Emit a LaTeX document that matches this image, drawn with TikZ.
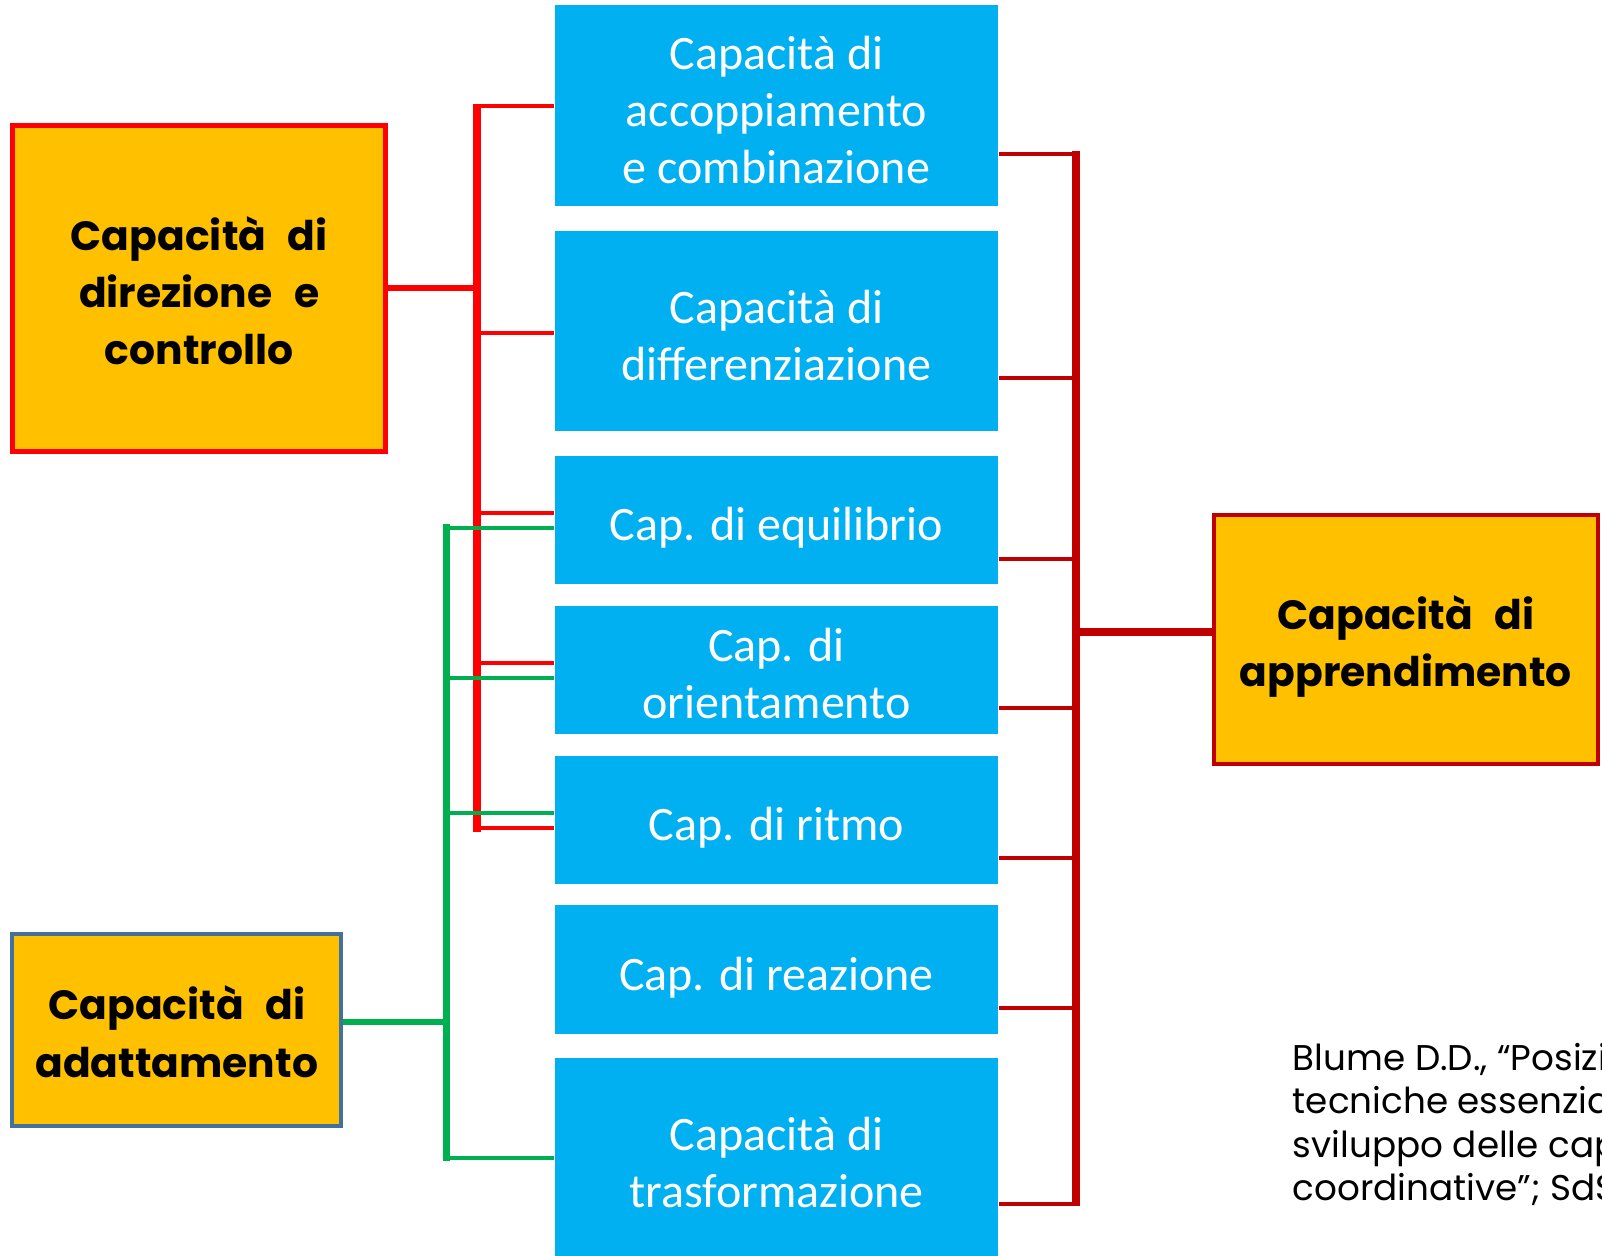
\documentclass[tikz,border=0pt]{standalone}
\usepackage{fontspec}
\setmainfont{Carlito}
\newfontfamily\comicfont{Poppins}
\usetikzlibrary{calc}
\definecolor{cblue}{HTML}{00B0F0}
\definecolor{corange}{HTML}{FFC000}
\definecolor{cred}{HTML}{FF0000}
\definecolor{cdred}{HTML}{C00000}
\definecolor{cgreen}{HTML}{00B050}
\definecolor{cslate}{HTML}{41719C}
\newcommand{\mylower}[2]{\raisebox{-#1}[\height][\depth]{\begin{tabular}{@{}c@{}}#2\end{tabular}}}
\newcommand{\widespaces}{\spaceskip=10.5pt plus 2pt minus 2pt\relax}
\begin{document}
\begin{tikzpicture}[x=0.5pt,y=-0.5pt,
  bluebox/.style={fill=cblue, draw=none, minimum width=217pt, text=white,
    font=\fontsize{23.5}{28}\selectfont, inner sep=0pt},
  keybox/.style={fill=corange, text=black,
    font=\comicfont\bfseries\fontsize{20}{28}\selectfont\widespaces, inner sep=0pt},
  redbus/.style={cred, line width=3.75pt},
  redbranch/.style={cred, line width=2pt},
  greenbus/.style={cgreen, line width=3.6pt},
  greenbranch/.style={cgreen, line width=2pt},
  dredbus/.style={cdred, line width=3.9pt},
  dredbranch/.style={cdred, line width=2pt}]
\path[use as bounding box, clip] (0,0) rectangle (1568,1229);

% blue boxes
\node[bluebox, minimum height=98.5pt] (b1) at (760,103.5) {\mylower{4.5pt}{Capacità di\\accoppiamento\\e combinazione}};
\node[bluebox, minimum height=98pt] (b2) at (760,324) {\mylower{4.5pt}{Capacità di\\differenziazione}};
\node[bluebox, minimum height=63pt] (b3) at (760,509) {\mylower{4.5pt}{Cap. di equilibrio}};
\node[bluebox, minimum height=62.5pt] (b4) at (760,655.5) {\mylower{4.5pt}{Cap. di\\orientamento}};
\node[bluebox, minimum height=62.5pt] (b5) at (760,802.5) {\mylower{4.5pt}{Cap. di ritmo}};
\node[bluebox, minimum height=63pt] (b6) at (760,949) {\mylower{4.5pt}{Cap. di reazione}};
\node[bluebox, minimum height=98pt] (b7) at (760,1134) {\mylower{4.5pt}{Capacità di\\trasformazione}};

% key boxes
\node[keybox, draw=cred, line width=2.5pt, minimum width=182.5pt, minimum height=159.5pt] (dir) at (195,282) {\mylower{4pt}{Capacità di\\direzione e\\controllo}};
\node[keybox, draw=cdred, line width=2pt, minimum width=188pt, minimum height=122pt] (app) at (1376,626) {\mylower{3.25pt}{Capacità di\\apprendimento}};
\node[keybox, draw=cslate, line width=2pt, minimum width=161pt, minimum height=94pt] (ada) at (173,1008) {\mylower{3.5pt}{Capacità di\\adattamento}};

% red bus (direzione e controllo)
\coordinate (rtop) at (467,102);
\coordinate (rbot) at (467,814);
\draw[redbus] (rtop) -- (rbot);
\draw[cred, line width=3pt] (dir.east) -- (dir.east -| rtop);
\foreach \n/\dy in {b1/0.5, b2/2, b3/-7, b4/-6.5, b5/7.5}{
  \coordinate (tmp) at ($(\n.west)+(0,\dy)$);
  \draw[redbranch] (tmp) -- (tmp -| rtop);
}

% green bus (adattamento)
\coordinate (gtop) at (437,513);
\coordinate (gbot) at (437,1136);
\draw[greenbus] (gtop) -- (gbot);
\coordinate (gc) at ($(ada.east)+(0,-8)$);
\draw[cgreen, line width=3pt] (gc) -- (gc -| gtop);
\foreach \n/\dy in {b3/8, b4/8.5, b5/-6.5, b7/-1}{
  \coordinate (tmp) at ($(\n.west)+(0,\dy)$);
  \draw[greenbranch] (tmp) -- (tmp -| gtop);
}

% dark red bus (apprendimento)
\coordinate (dtop) at (1053,148);
\coordinate (dbot) at (1053,1180);
\draw[dredbus] (dtop) -- (dbot);
\coordinate (dc) at ($(app.west)+(0,-7)$);
\draw[cdred, line width=3.9pt] (dc -| dtop) -- (dc);
\foreach \n/\dy in {b1/47.5, b2/46, b3/38, b4/37.5, b5/37.5, b6/38, b7/44}{
  \coordinate (tmp) at ($(\n.east)+(0,\dy)$);
  \draw[dredbranch] (tmp) -- (tmp -| dtop);
}

% citation
\node[anchor=base west, align=left, inner sep=0pt, text=black,
  font=\comicfont\fontsize{17.5}{21.25}\selectfont] (cite) at (1265,1175)
  {Blume D.D., “Posizioni\\tecniche essenziali\\sviluppo delle capacità\\coordinative”; SdS};
\end{tikzpicture}
\end{document}
